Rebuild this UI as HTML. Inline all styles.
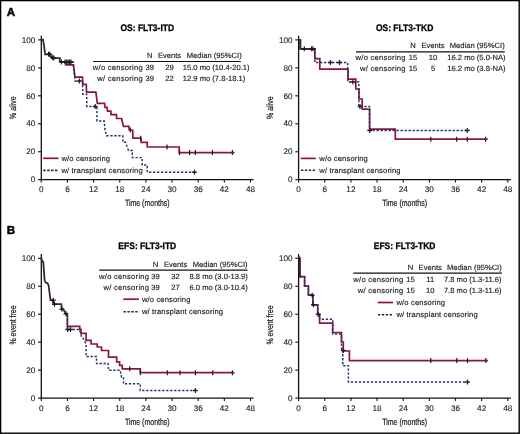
<!DOCTYPE html>
<html><head><meta charset="utf-8"><style>
html,body{margin:0;padding:0;background:#fff;overflow:hidden;}
svg{display:block;}
text{filter:grayscale(1);}
text{font-family:"Liberation Sans", sans-serif;fill:#2a2a2a;text-rendering:geometricPrecision;}
.tk{font-size:8.2px;fill:#222;stroke:#222;stroke-width:0.12px;}
.tb{font-size:7.6px;fill:#222;stroke:#222;stroke-width:0.15px;}
.ls{letter-spacing:0.14px;}
.ls2{letter-spacing:0.26px;}
.at{font-size:9.2px;fill:#1a1a1a;stroke:#1a1a1a;stroke-width:0.22px;}
.ti{font-size:9.6px;font-weight:bold;fill:#000;stroke:#000;stroke-width:0.32px;}
.lb{font-size:11.6px;font-weight:bold;fill:#000;stroke:#000;stroke-width:0.45px;}
</style></head><body>
<svg width="520" height="434" viewBox="0 0 520 434">
<rect x="0" y="0" width="520" height="434" fill="#fff"/>
<g transform="translate(0.00 0.00)">
<line x1="41.30" y1="35.7" x2="41.30" y2="180.30" stroke="#111111" stroke-width="1.3"/>
<line x1="40.70" y1="179.70" x2="253.50" y2="179.70" stroke="#111111" stroke-width="1.3"/>
<line x1="38" y1="179.70" x2="41.30" y2="179.70" stroke="#111111" stroke-width="1.1"/>
<text x="35.3" y="182.40" text-anchor="end" class="tk">0</text>
<line x1="38" y1="151.74" x2="41.30" y2="151.74" stroke="#111111" stroke-width="1.1"/>
<text x="35.3" y="154.44" text-anchor="end" class="tk">20</text>
<line x1="38" y1="123.78" x2="41.30" y2="123.78" stroke="#111111" stroke-width="1.1"/>
<text x="35.3" y="126.48" text-anchor="end" class="tk">40</text>
<line x1="38" y1="95.82" x2="41.30" y2="95.82" stroke="#111111" stroke-width="1.1"/>
<text x="35.3" y="98.52" text-anchor="end" class="tk">60</text>
<line x1="38" y1="67.86" x2="41.30" y2="67.86" stroke="#111111" stroke-width="1.1"/>
<text x="35.3" y="70.56" text-anchor="end" class="tk">80</text>
<line x1="38" y1="39.90" x2="41.30" y2="39.90" stroke="#111111" stroke-width="1.1"/>
<text x="35.3" y="42.60" text-anchor="end" class="tk">100</text>
<line x1="41.30" y1="179.70" x2="41.30" y2="182.50" stroke="#111111" stroke-width="1.1"/>
<text x="41.30" y="192.2" text-anchor="middle" class="tk">0</text>
<line x1="67.45" y1="179.70" x2="67.45" y2="182.50" stroke="#111111" stroke-width="1.1"/>
<text x="67.45" y="192.2" text-anchor="middle" class="tk">6</text>
<line x1="93.60" y1="179.70" x2="93.60" y2="182.50" stroke="#111111" stroke-width="1.1"/>
<text x="93.60" y="192.2" text-anchor="middle" class="tk">12</text>
<line x1="119.75" y1="179.70" x2="119.75" y2="182.50" stroke="#111111" stroke-width="1.1"/>
<text x="119.75" y="192.2" text-anchor="middle" class="tk">18</text>
<line x1="145.90" y1="179.70" x2="145.90" y2="182.50" stroke="#111111" stroke-width="1.1"/>
<text x="145.90" y="192.2" text-anchor="middle" class="tk">24</text>
<line x1="172.05" y1="179.70" x2="172.05" y2="182.50" stroke="#111111" stroke-width="1.1"/>
<text x="172.05" y="192.2" text-anchor="middle" class="tk">30</text>
<line x1="198.20" y1="179.70" x2="198.20" y2="182.50" stroke="#111111" stroke-width="1.1"/>
<text x="198.20" y="192.2" text-anchor="middle" class="tk">36</text>
<line x1="224.35" y1="179.70" x2="224.35" y2="182.50" stroke="#111111" stroke-width="1.1"/>
<text x="224.35" y="192.2" text-anchor="middle" class="tk">42</text>
<line x1="250.50" y1="179.70" x2="250.50" y2="182.50" stroke="#111111" stroke-width="1.1"/>
<text x="250.50" y="192.2" text-anchor="middle" class="tk">48</text>
<text x="147.3" y="206.2" text-anchor="middle" class="at" transform="translate(147.3 0) scale(0.76 1) translate(-147.3 0)">Time (months)</text>
<text class="at" text-anchor="middle" transform="translate(15.6 107.70) rotate(-90) scale(0.76 1)">% alive</text>
<text x="147.3" y="30.9" text-anchor="middle" class="ti" transform="translate(147.3 0) scale(0.885 1) translate(-147.3 0)">OS: FLT3-ITD</text>
<text x="6.7" y="15.5" class="lb">A</text>
</g>
<g transform="translate(257.30 0.00)">
<line x1="41.30" y1="35.7" x2="41.30" y2="180.30" stroke="#111111" stroke-width="1.3"/>
<line x1="40.70" y1="179.70" x2="253.50" y2="179.70" stroke="#111111" stroke-width="1.3"/>
<line x1="38" y1="179.70" x2="41.30" y2="179.70" stroke="#111111" stroke-width="1.1"/>
<text x="35.3" y="182.40" text-anchor="end" class="tk">0</text>
<line x1="38" y1="151.74" x2="41.30" y2="151.74" stroke="#111111" stroke-width="1.1"/>
<text x="35.3" y="154.44" text-anchor="end" class="tk">20</text>
<line x1="38" y1="123.78" x2="41.30" y2="123.78" stroke="#111111" stroke-width="1.1"/>
<text x="35.3" y="126.48" text-anchor="end" class="tk">40</text>
<line x1="38" y1="95.82" x2="41.30" y2="95.82" stroke="#111111" stroke-width="1.1"/>
<text x="35.3" y="98.52" text-anchor="end" class="tk">60</text>
<line x1="38" y1="67.86" x2="41.30" y2="67.86" stroke="#111111" stroke-width="1.1"/>
<text x="35.3" y="70.56" text-anchor="end" class="tk">80</text>
<line x1="38" y1="39.90" x2="41.30" y2="39.90" stroke="#111111" stroke-width="1.1"/>
<text x="35.3" y="42.60" text-anchor="end" class="tk">100</text>
<line x1="41.30" y1="179.70" x2="41.30" y2="182.50" stroke="#111111" stroke-width="1.1"/>
<text x="41.30" y="192.2" text-anchor="middle" class="tk">0</text>
<line x1="67.45" y1="179.70" x2="67.45" y2="182.50" stroke="#111111" stroke-width="1.1"/>
<text x="67.45" y="192.2" text-anchor="middle" class="tk">6</text>
<line x1="93.60" y1="179.70" x2="93.60" y2="182.50" stroke="#111111" stroke-width="1.1"/>
<text x="93.60" y="192.2" text-anchor="middle" class="tk">12</text>
<line x1="119.75" y1="179.70" x2="119.75" y2="182.50" stroke="#111111" stroke-width="1.1"/>
<text x="119.75" y="192.2" text-anchor="middle" class="tk">18</text>
<line x1="145.90" y1="179.70" x2="145.90" y2="182.50" stroke="#111111" stroke-width="1.1"/>
<text x="145.90" y="192.2" text-anchor="middle" class="tk">24</text>
<line x1="172.05" y1="179.70" x2="172.05" y2="182.50" stroke="#111111" stroke-width="1.1"/>
<text x="172.05" y="192.2" text-anchor="middle" class="tk">30</text>
<line x1="198.20" y1="179.70" x2="198.20" y2="182.50" stroke="#111111" stroke-width="1.1"/>
<text x="198.20" y="192.2" text-anchor="middle" class="tk">36</text>
<line x1="224.35" y1="179.70" x2="224.35" y2="182.50" stroke="#111111" stroke-width="1.1"/>
<text x="224.35" y="192.2" text-anchor="middle" class="tk">42</text>
<line x1="250.50" y1="179.70" x2="250.50" y2="182.50" stroke="#111111" stroke-width="1.1"/>
<text x="250.50" y="192.2" text-anchor="middle" class="tk">48</text>
<text x="147.3" y="206.2" text-anchor="middle" class="at" transform="translate(147.3 0) scale(0.76 1) translate(-147.3 0)">Time (months)</text>
<text class="at" text-anchor="middle" transform="translate(15.6 107.70) rotate(-90) scale(0.76 1)">% alive</text>
<text x="147.3" y="30.9" text-anchor="middle" class="ti" transform="translate(147.3 0) scale(0.885 1) translate(-147.3 0)">OS: FLT3-TKD</text>
</g>
<g transform="translate(0.00 218.40)">
<line x1="41.30" y1="35.7" x2="41.30" y2="180.30" stroke="#111111" stroke-width="1.3"/>
<line x1="40.70" y1="179.70" x2="253.50" y2="179.70" stroke="#111111" stroke-width="1.3"/>
<line x1="38" y1="179.70" x2="41.30" y2="179.70" stroke="#111111" stroke-width="1.1"/>
<text x="35.3" y="182.40" text-anchor="end" class="tk">0</text>
<line x1="38" y1="151.74" x2="41.30" y2="151.74" stroke="#111111" stroke-width="1.1"/>
<text x="35.3" y="154.44" text-anchor="end" class="tk">20</text>
<line x1="38" y1="123.78" x2="41.30" y2="123.78" stroke="#111111" stroke-width="1.1"/>
<text x="35.3" y="126.48" text-anchor="end" class="tk">40</text>
<line x1="38" y1="95.82" x2="41.30" y2="95.82" stroke="#111111" stroke-width="1.1"/>
<text x="35.3" y="98.52" text-anchor="end" class="tk">60</text>
<line x1="38" y1="67.86" x2="41.30" y2="67.86" stroke="#111111" stroke-width="1.1"/>
<text x="35.3" y="70.56" text-anchor="end" class="tk">80</text>
<line x1="38" y1="39.90" x2="41.30" y2="39.90" stroke="#111111" stroke-width="1.1"/>
<text x="35.3" y="42.60" text-anchor="end" class="tk">100</text>
<line x1="41.30" y1="179.70" x2="41.30" y2="182.50" stroke="#111111" stroke-width="1.1"/>
<text x="41.30" y="192.2" text-anchor="middle" class="tk">0</text>
<line x1="67.45" y1="179.70" x2="67.45" y2="182.50" stroke="#111111" stroke-width="1.1"/>
<text x="67.45" y="192.2" text-anchor="middle" class="tk">6</text>
<line x1="93.60" y1="179.70" x2="93.60" y2="182.50" stroke="#111111" stroke-width="1.1"/>
<text x="93.60" y="192.2" text-anchor="middle" class="tk">12</text>
<line x1="119.75" y1="179.70" x2="119.75" y2="182.50" stroke="#111111" stroke-width="1.1"/>
<text x="119.75" y="192.2" text-anchor="middle" class="tk">18</text>
<line x1="145.90" y1="179.70" x2="145.90" y2="182.50" stroke="#111111" stroke-width="1.1"/>
<text x="145.90" y="192.2" text-anchor="middle" class="tk">24</text>
<line x1="172.05" y1="179.70" x2="172.05" y2="182.50" stroke="#111111" stroke-width="1.1"/>
<text x="172.05" y="192.2" text-anchor="middle" class="tk">30</text>
<line x1="198.20" y1="179.70" x2="198.20" y2="182.50" stroke="#111111" stroke-width="1.1"/>
<text x="198.20" y="192.2" text-anchor="middle" class="tk">36</text>
<line x1="224.35" y1="179.70" x2="224.35" y2="182.50" stroke="#111111" stroke-width="1.1"/>
<text x="224.35" y="192.2" text-anchor="middle" class="tk">42</text>
<line x1="250.50" y1="179.70" x2="250.50" y2="182.50" stroke="#111111" stroke-width="1.1"/>
<text x="250.50" y="192.2" text-anchor="middle" class="tk">48</text>
<text x="147.3" y="206.2" text-anchor="middle" class="at" transform="translate(147.3 0) scale(0.76 1) translate(-147.3 0)">Time (months)</text>
<text class="at" text-anchor="middle" transform="translate(15.6 106.60) rotate(-90) scale(0.76 1)">% event free</text>
<text x="147.3" y="30.9" text-anchor="middle" class="ti" transform="translate(147.3 0) scale(0.885 1) translate(-147.3 0)">EFS: FLT3-ITD</text>
<text x="6.7" y="15.5" class="lb">B</text>
</g>
<g transform="translate(257.30 218.40)">
<line x1="41.30" y1="35.7" x2="41.30" y2="180.30" stroke="#111111" stroke-width="1.3"/>
<line x1="40.70" y1="179.70" x2="253.50" y2="179.70" stroke="#111111" stroke-width="1.3"/>
<line x1="38" y1="179.70" x2="41.30" y2="179.70" stroke="#111111" stroke-width="1.1"/>
<text x="35.3" y="182.40" text-anchor="end" class="tk">0</text>
<line x1="38" y1="151.74" x2="41.30" y2="151.74" stroke="#111111" stroke-width="1.1"/>
<text x="35.3" y="154.44" text-anchor="end" class="tk">20</text>
<line x1="38" y1="123.78" x2="41.30" y2="123.78" stroke="#111111" stroke-width="1.1"/>
<text x="35.3" y="126.48" text-anchor="end" class="tk">40</text>
<line x1="38" y1="95.82" x2="41.30" y2="95.82" stroke="#111111" stroke-width="1.1"/>
<text x="35.3" y="98.52" text-anchor="end" class="tk">60</text>
<line x1="38" y1="67.86" x2="41.30" y2="67.86" stroke="#111111" stroke-width="1.1"/>
<text x="35.3" y="70.56" text-anchor="end" class="tk">80</text>
<line x1="38" y1="39.90" x2="41.30" y2="39.90" stroke="#111111" stroke-width="1.1"/>
<text x="35.3" y="42.60" text-anchor="end" class="tk">100</text>
<line x1="41.30" y1="179.70" x2="41.30" y2="182.50" stroke="#111111" stroke-width="1.1"/>
<text x="41.30" y="192.2" text-anchor="middle" class="tk">0</text>
<line x1="67.45" y1="179.70" x2="67.45" y2="182.50" stroke="#111111" stroke-width="1.1"/>
<text x="67.45" y="192.2" text-anchor="middle" class="tk">6</text>
<line x1="93.60" y1="179.70" x2="93.60" y2="182.50" stroke="#111111" stroke-width="1.1"/>
<text x="93.60" y="192.2" text-anchor="middle" class="tk">12</text>
<line x1="119.75" y1="179.70" x2="119.75" y2="182.50" stroke="#111111" stroke-width="1.1"/>
<text x="119.75" y="192.2" text-anchor="middle" class="tk">18</text>
<line x1="145.90" y1="179.70" x2="145.90" y2="182.50" stroke="#111111" stroke-width="1.1"/>
<text x="145.90" y="192.2" text-anchor="middle" class="tk">24</text>
<line x1="172.05" y1="179.70" x2="172.05" y2="182.50" stroke="#111111" stroke-width="1.1"/>
<text x="172.05" y="192.2" text-anchor="middle" class="tk">30</text>
<line x1="198.20" y1="179.70" x2="198.20" y2="182.50" stroke="#111111" stroke-width="1.1"/>
<text x="198.20" y="192.2" text-anchor="middle" class="tk">36</text>
<line x1="224.35" y1="179.70" x2="224.35" y2="182.50" stroke="#111111" stroke-width="1.1"/>
<text x="224.35" y="192.2" text-anchor="middle" class="tk">42</text>
<line x1="250.50" y1="179.70" x2="250.50" y2="182.50" stroke="#111111" stroke-width="1.1"/>
<text x="250.50" y="192.2" text-anchor="middle" class="tk">48</text>
<text x="147.3" y="206.2" text-anchor="middle" class="at" transform="translate(147.3 0) scale(0.76 1) translate(-147.3 0)">Time (months)</text>
<text class="at" text-anchor="middle" transform="translate(15.6 106.60) rotate(-90) scale(0.76 1)">% event free</text>
<text x="147.3" y="30.9" text-anchor="middle" class="ti" transform="translate(147.3 0) scale(0.885 1) translate(-147.3 0)">EFS: FLT3-TKD</text>
</g>
<text x="149.80" y="58.00" text-anchor="middle" class="tb">N</text>
<text x="169.50" y="58.00" text-anchor="middle" class="tb">Events</text>
<text x="186.80" y="58.00" class="tb">Median (95%CI)</text>
<line x1="93.10" y1="61.50" x2="240.80" y2="61.50" stroke="#111111" stroke-width="1.2"/>
<text x="143.00" y="70.10" text-anchor="end" class="tb ls2">w/o censoring</text>
<text x="149.80" y="70.10" text-anchor="middle" class="tb">39</text>
<text x="169.50" y="70.10" text-anchor="middle" class="tb">29</text>
<text x="182.80" y="70.10" class="tb">15.0 mo (10.4-20.1)</text>
<text x="143.00" y="81.10" text-anchor="end" class="tb ls2">w/ censoring</text>
<text x="149.80" y="81.10" text-anchor="middle" class="tb">39</text>
<text x="169.50" y="81.10" text-anchor="middle" class="tb">22</text>
<text x="182.80" y="81.10" class="tb">12.9 mo (7.8-18.1)</text>
<text x="413.10" y="48.20" text-anchor="middle" class="tb">N</text>
<text x="433.00" y="48.20" text-anchor="middle" class="tb">Events</text>
<text x="449.80" y="48.20" class="tb">Median (95%CI)</text>
<line x1="356.00" y1="51.80" x2="504.80" y2="51.80" stroke="#111111" stroke-width="1.2"/>
<text x="405.80" y="60.30" text-anchor="end" class="tb ls2">w/o censoring</text>
<text x="413.10" y="60.30" text-anchor="middle" class="tb">15</text>
<text x="433.00" y="60.30" text-anchor="middle" class="tb">10</text>
<text x="447.30" y="60.30" class="tb">16.2 mo (5.0-NA)</text>
<text x="405.80" y="71.30" text-anchor="end" class="tb ls2">w/ censoring</text>
<text x="413.10" y="71.30" text-anchor="middle" class="tb">15</text>
<text x="433.00" y="71.30" text-anchor="middle" class="tb">5</text>
<text x="447.30" y="71.30" class="tb">16.2 mo (3.8-NA)</text>
<text x="155.50" y="266.50" text-anchor="middle" class="tb">N</text>
<text x="175.60" y="266.50" text-anchor="middle" class="tb">Events</text>
<text x="192.70" y="266.50" class="tb">Median (95%CI)</text>
<line x1="99.30" y1="270.10" x2="247.50" y2="270.10" stroke="#111111" stroke-width="1.2"/>
<text x="149.30" y="278.80" text-anchor="end" class="tb ls2">w/o censoring</text>
<text x="155.50" y="278.80" text-anchor="middle" class="tb">39</text>
<text x="175.60" y="278.80" text-anchor="middle" class="tb">32</text>
<text x="189.50" y="278.80" class="tb">8.8 mo (3.0-13.9)</text>
<text x="149.30" y="290.10" text-anchor="end" class="tb ls2">w/ censoring</text>
<text x="155.50" y="290.10" text-anchor="middle" class="tb">39</text>
<text x="175.60" y="290.10" text-anchor="middle" class="tb">27</text>
<text x="189.50" y="290.10" class="tb">6.0 mo (3.0-10.4)</text>
<text x="410.50" y="269.50" text-anchor="middle" class="tb">N</text>
<text x="430.20" y="269.50" text-anchor="middle" class="tb">Events</text>
<text x="446.90" y="269.50" class="tb">Median (95%CI)</text>
<line x1="353.40" y1="273.10" x2="501.90" y2="273.10" stroke="#111111" stroke-width="1.2"/>
<text x="403.50" y="281.80" text-anchor="end" class="tb ls2">w/o censoring</text>
<text x="410.50" y="281.80" text-anchor="middle" class="tb">15</text>
<text x="430.20" y="281.80" text-anchor="middle" class="tb">11</text>
<text x="443.90" y="281.80" class="tb">7.8 mo (1.3-11.6)</text>
<text x="403.50" y="293.10" text-anchor="end" class="tb ls2">w/ censoring</text>
<text x="410.50" y="293.10" text-anchor="middle" class="tb">15</text>
<text x="430.20" y="293.10" text-anchor="middle" class="tb">10</text>
<text x="443.90" y="293.10" class="tb">7.8 mo (1.3-11.6)</text>
<line x1="43.10" y1="158.30" x2="58.50" y2="158.30" stroke="#8b173d" stroke-width="1.7"/>
<line x1="43.30" y1="170.40" x2="58.50" y2="170.40" stroke="#1c2850" stroke-width="1.6" stroke-dasharray="2.4 1.5"/>
<text x="61.50" y="160.60" class="tb ls">w/o censoring</text>
<text x="61.50" y="172.80" class="tb ls">w/ transplant censoring</text>
<line x1="300.80" y1="158.40" x2="315.80" y2="158.40" stroke="#8b173d" stroke-width="1.7"/>
<line x1="301.00" y1="170.30" x2="315.80" y2="170.30" stroke="#1c2850" stroke-width="1.6" stroke-dasharray="2.4 1.5"/>
<text x="319.30" y="160.70" class="tb ls">w/o censoring</text>
<text x="319.30" y="172.70" class="tb ls">w/ transplant censoring</text>
<line x1="123.30" y1="299.20" x2="138.80" y2="299.20" stroke="#8b173d" stroke-width="1.7"/>
<line x1="123.50" y1="311.70" x2="138.80" y2="311.70" stroke="#1c2850" stroke-width="1.6" stroke-dasharray="2.4 1.5"/>
<text x="141.90" y="301.50" class="tb ls">w/o censoring</text>
<text x="141.90" y="314.10" class="tb ls">w/ transplant censoring</text>
<line x1="377.70" y1="302.50" x2="393.10" y2="302.50" stroke="#8b173d" stroke-width="1.7"/>
<line x1="377.90" y1="314.70" x2="393.10" y2="314.70" stroke="#1c2850" stroke-width="1.6" stroke-dasharray="2.4 1.5"/>
<text x="396.50" y="304.80" class="tb ls">w/o censoring</text>
<text x="396.50" y="317.10" class="tb ls">w/ transplant censoring</text>
<path d="M59.80 61.90 L66.00 61.90 L66.00 64.80 L73.30 64.80 L75.00 77.10 L82.50 77.10 L82.80 84.30 L86.30 84.30 L86.50 92.20 L95.90 92.20 L97.30 103.30 L104.70 103.30 L105.00 107.40 L107.00 107.40 L107.50 111.20 L110.90 111.20 L111.00 114.70 L116.40 114.70 L116.60 118.50 L121.60 118.50 L122.50 122.60 L123.50 126.30 L128.90 126.30 L129.20 130.00 L132.70 130.00 L132.90 138.20 L141.00 138.20 L141.20 142.40 L147.20 142.40 L147.30 147.00 L179.20 147.00 L179.20 152.60 L232.40 152.60" fill="none" stroke="#8b173d" stroke-width="1.7" stroke-linejoin="miter"/>
<path d="M59.80 61.90 L73.00 61.90 L73.50 62.50 L75.00 81.00 L82.50 81.00 L82.80 94.20 L86.70 94.20 L86.80 106.50 L96.80 106.50 L97.00 121.00 L104.20 121.00 L105.00 130.00 L106.50 135.80 L122.80 135.80 L123.00 142.30 L125.50 142.30 L128.50 150.50 L132.20 150.50 L132.40 157.60 L142.10 157.60 L142.20 165.00 L147.20 165.00 L147.30 172.20 L194.50 172.20" fill="none" stroke="#1f3568" stroke-width="1.45" stroke-dasharray="2.3 1.7"/>
<path d="M41.40 39.70 L43.10 39.70 L45.20 54.30 L49.50 54.30 L52.00 58.10 L59.80 58.10 L59.80 61.90" fill="none" stroke="#3e2635" stroke-width="1.8" stroke-linejoin="miter"/>
<line x1="130.30" y1="127.50" x2="130.30" y2="132.50" stroke="#1e1a22" stroke-width="1.2"/>
<line x1="140.70" y1="135.70" x2="140.70" y2="140.70" stroke="#1e1a22" stroke-width="1.2"/>
<line x1="167.00" y1="144.50" x2="167.00" y2="149.50" stroke="#1e1a22" stroke-width="1.2"/>
<line x1="179.50" y1="150.10" x2="179.50" y2="155.10" stroke="#1e1a22" stroke-width="1.2"/>
<line x1="189.60" y1="150.10" x2="189.60" y2="155.10" stroke="#1e1a22" stroke-width="1.2"/>
<line x1="195.40" y1="150.10" x2="195.40" y2="155.10" stroke="#1e1a22" stroke-width="1.2"/>
<line x1="212.40" y1="150.10" x2="212.40" y2="155.10" stroke="#1e1a22" stroke-width="1.2"/>
<line x1="232.40" y1="150.10" x2="232.40" y2="155.10" stroke="#1e1a22" stroke-width="1.2"/>
<line x1="79.30" y1="78.50" x2="79.30" y2="83.50" stroke="#1e1a22" stroke-width="1.2"/>
<line x1="95.20" y1="104.00" x2="95.20" y2="109.00" stroke="#1e1a22" stroke-width="1.2"/>
<line x1="194.50" y1="169.70" x2="194.50" y2="174.70" stroke="#1e1a22" stroke-width="1.2"/>
<line x1="48.60" y1="51.80" x2="48.60" y2="56.80" stroke="#1e1a22" stroke-width="1.2"/>
<line x1="49.80" y1="51.80" x2="49.80" y2="56.80" stroke="#1e1a22" stroke-width="1.2"/>
<line x1="52.60" y1="55.10" x2="52.60" y2="60.10" stroke="#1e1a22" stroke-width="1.2"/>
<line x1="53.80" y1="55.60" x2="53.80" y2="60.60" stroke="#1e1a22" stroke-width="1.2"/>
<line x1="61.40" y1="59.40" x2="61.40" y2="64.40" stroke="#1e1a22" stroke-width="1.2"/>
<line x1="64.90" y1="59.40" x2="64.90" y2="64.40" stroke="#1e1a22" stroke-width="1.2"/>
<line x1="66.60" y1="59.40" x2="66.60" y2="64.40" stroke="#1e1a22" stroke-width="1.2"/>
<line x1="68.20" y1="59.40" x2="68.20" y2="64.40" stroke="#1e1a22" stroke-width="1.2"/>
<line x1="69.60" y1="59.40" x2="69.60" y2="64.40" stroke="#1e1a22" stroke-width="1.2"/>
<line x1="71.00" y1="59.40" x2="71.00" y2="64.40" stroke="#1e1a22" stroke-width="1.2"/>
<line x1="232.40" y1="152.60" x2="234.60" y2="152.60" stroke="#8b173d" stroke-width="1.7"/>
<line x1="76.90" y1="81.00" x2="81.70" y2="81.00" stroke="#1e1a22" stroke-width="1.4"/>
<line x1="92.80" y1="106.50" x2="97.60" y2="106.50" stroke="#1e1a22" stroke-width="1.4"/>
<line x1="192.10" y1="172.20" x2="196.90" y2="172.20" stroke="#1e1a22" stroke-width="1.4"/>
<line x1="46.20" y1="54.30" x2="51.00" y2="54.30" stroke="#1e1a22" stroke-width="1.4"/>
<line x1="47.40" y1="54.30" x2="52.20" y2="54.30" stroke="#1e1a22" stroke-width="1.4"/>
<line x1="50.20" y1="57.60" x2="55.00" y2="57.60" stroke="#1e1a22" stroke-width="1.4"/>
<line x1="51.40" y1="58.10" x2="56.20" y2="58.10" stroke="#1e1a22" stroke-width="1.4"/>
<line x1="59.00" y1="61.90" x2="63.80" y2="61.90" stroke="#1e1a22" stroke-width="1.4"/>
<line x1="62.50" y1="61.90" x2="67.30" y2="61.90" stroke="#1e1a22" stroke-width="1.4"/>
<line x1="64.20" y1="61.90" x2="69.00" y2="61.90" stroke="#1e1a22" stroke-width="1.4"/>
<line x1="65.80" y1="61.90" x2="70.60" y2="61.90" stroke="#1e1a22" stroke-width="1.4"/>
<line x1="67.20" y1="61.90" x2="72.00" y2="61.90" stroke="#1e1a22" stroke-width="1.4"/>
<line x1="68.60" y1="61.90" x2="73.40" y2="61.90" stroke="#1e1a22" stroke-width="1.4"/>
<path d="M298.70 39.80 L300.30 39.80 L300.30 48.80 L314.90 48.80 L314.90 58.70 L319.80 58.70 L319.80 69.20 L348.00 69.20 L348.00 79.20 L355.80 79.20 L355.80 89.00 L359.00 89.00 L359.00 99.00 L362.20 99.00 L362.20 109.20 L369.60 109.20 L369.60 129.20 L395.30 129.20 L395.30 139.20 L485.60 139.20" fill="none" stroke="#8b173d" stroke-width="1.7" stroke-linejoin="miter"/>
<path d="M298.70 39.80 L300.30 39.80 L300.30 48.80 L314.90 48.80 L314.90 62.50 L347.60 62.50 L347.80 81.90 L358.80 81.90 L358.90 106.50 L369.50 106.50 L369.60 130.40 L467.30 130.40" fill="none" stroke="#1f3568" stroke-width="1.45" stroke-dasharray="2.3 1.7"/>
<path d="M298.70 39.80 L300.30 39.80 L300.30 48.80 L314.90 48.80" fill="none" stroke="#3e2635" stroke-width="1.8"/>
<line x1="430.80" y1="136.70" x2="430.80" y2="141.70" stroke="#1e1a22" stroke-width="1.2"/>
<line x1="456.70" y1="136.70" x2="456.70" y2="141.70" stroke="#1e1a22" stroke-width="1.2"/>
<line x1="467.30" y1="136.70" x2="467.30" y2="141.70" stroke="#1e1a22" stroke-width="1.2"/>
<line x1="485.60" y1="136.70" x2="485.60" y2="141.70" stroke="#1e1a22" stroke-width="1.2"/>
<line x1="330.50" y1="60.00" x2="330.50" y2="65.00" stroke="#1e1a22" stroke-width="1.2"/>
<line x1="339.50" y1="60.00" x2="339.50" y2="65.00" stroke="#1e1a22" stroke-width="1.2"/>
<line x1="352.90" y1="79.40" x2="352.90" y2="84.40" stroke="#1e1a22" stroke-width="1.2"/>
<line x1="360.00" y1="104.00" x2="360.00" y2="109.00" stroke="#1e1a22" stroke-width="1.2"/>
<line x1="369.70" y1="127.90" x2="369.70" y2="132.90" stroke="#1e1a22" stroke-width="1.2"/>
<line x1="467.30" y1="127.90" x2="467.30" y2="132.90" stroke="#1e1a22" stroke-width="1.2"/>
<line x1="304.30" y1="46.30" x2="304.30" y2="51.30" stroke="#1e1a22" stroke-width="1.2"/>
<line x1="311.50" y1="46.30" x2="311.50" y2="51.30" stroke="#1e1a22" stroke-width="1.2"/>
<line x1="312.90" y1="46.30" x2="312.90" y2="51.30" stroke="#1e1a22" stroke-width="1.2"/>
<line x1="485.60" y1="139.20" x2="487.80" y2="139.20" stroke="#8b173d" stroke-width="1.7"/>
<line x1="328.10" y1="62.50" x2="332.90" y2="62.50" stroke="#1e1a22" stroke-width="1.4"/>
<line x1="337.10" y1="62.50" x2="341.90" y2="62.50" stroke="#1e1a22" stroke-width="1.4"/>
<line x1="350.50" y1="81.90" x2="355.30" y2="81.90" stroke="#1e1a22" stroke-width="1.4"/>
<line x1="357.60" y1="106.50" x2="362.40" y2="106.50" stroke="#1e1a22" stroke-width="1.4"/>
<line x1="367.30" y1="130.40" x2="372.10" y2="130.40" stroke="#1e1a22" stroke-width="1.4"/>
<line x1="464.90" y1="130.40" x2="469.70" y2="130.40" stroke="#1e1a22" stroke-width="1.4"/>
<line x1="301.90" y1="48.80" x2="306.70" y2="48.80" stroke="#1e1a22" stroke-width="1.4"/>
<line x1="309.10" y1="48.80" x2="313.90" y2="48.80" stroke="#1e1a22" stroke-width="1.4"/>
<line x1="310.50" y1="48.80" x2="315.30" y2="48.80" stroke="#1e1a22" stroke-width="1.4"/>
<path d="M67.40 314.70 L67.40 326.40 L79.80 326.40 L79.80 329.30 L81.00 329.30 L81.00 333.40 L86.10 333.40 L86.10 340.30 L91.10 340.30 L91.10 344.00 L97.20 344.00 L97.20 347.00 L101.50 347.00 L101.50 350.50 L108.50 350.50 L108.50 357.20 L116.70 357.20 L116.70 361.90 L119.60 361.90 L119.60 365.30 L122.30 365.30 L122.30 368.80 L140.30 368.80 L140.30 372.70 L232.40 372.70" fill="none" stroke="#8b173d" stroke-width="1.7" stroke-linejoin="miter"/>
<path d="M67.40 314.70 L67.40 329.50 L79.50 329.50 L81.50 336.60 L83.00 338.00 L86.10 344.00 L86.10 356.50 L96.50 356.50 L96.50 363.50 L108.00 363.50 L108.50 370.20 L120.20 370.20 L121.50 377.00 L123.50 377.00 L123.50 383.80 L140.30 383.80 L140.30 390.50 L195.40 390.50" fill="none" stroke="#1f3568" stroke-width="1.45" stroke-dasharray="2.3 1.7"/>
<path d="M41.30 258.30 L42.30 261.00 L43.30 262.00 L44.60 280.40 L45.80 282.60 L47.60 283.30 L48.60 285.50 L50.50 300.20 L52.50 300.20 L53.50 304.20 L61.40 304.20 L61.60 309.20 L63.00 309.20 L65.00 312.00 L66.50 314.70 L67.40 314.70" fill="none" stroke="#3e2635" stroke-width="1.8" stroke-linejoin="miter"/>
<line x1="129.70" y1="366.30" x2="129.70" y2="371.30" stroke="#1e1a22" stroke-width="1.2"/>
<line x1="140.30" y1="370.20" x2="140.30" y2="375.20" stroke="#1e1a22" stroke-width="1.2"/>
<line x1="167.30" y1="370.20" x2="167.30" y2="375.20" stroke="#1e1a22" stroke-width="1.2"/>
<line x1="180.00" y1="370.20" x2="180.00" y2="375.20" stroke="#1e1a22" stroke-width="1.2"/>
<line x1="195.40" y1="370.20" x2="195.40" y2="375.20" stroke="#1e1a22" stroke-width="1.2"/>
<line x1="212.70" y1="370.20" x2="212.70" y2="375.20" stroke="#1e1a22" stroke-width="1.2"/>
<line x1="232.40" y1="370.20" x2="232.40" y2="375.20" stroke="#1e1a22" stroke-width="1.2"/>
<line x1="67.60" y1="327.00" x2="67.60" y2="332.00" stroke="#1e1a22" stroke-width="1.2"/>
<line x1="70.50" y1="327.00" x2="70.50" y2="332.00" stroke="#1e1a22" stroke-width="1.2"/>
<line x1="195.40" y1="388.00" x2="195.40" y2="393.00" stroke="#1e1a22" stroke-width="1.2"/>
<line x1="53.30" y1="297.70" x2="53.30" y2="302.70" stroke="#1e1a22" stroke-width="1.2"/>
<line x1="54.50" y1="301.70" x2="54.50" y2="306.70" stroke="#1e1a22" stroke-width="1.2"/>
<line x1="61.90" y1="306.70" x2="61.90" y2="311.70" stroke="#1e1a22" stroke-width="1.2"/>
<line x1="66.00" y1="311.30" x2="66.00" y2="316.30" stroke="#1e1a22" stroke-width="1.2"/>
<line x1="232.40" y1="372.70" x2="234.60" y2="372.70" stroke="#8b173d" stroke-width="1.7"/>
<line x1="65.20" y1="329.50" x2="70.00" y2="329.50" stroke="#1e1a22" stroke-width="1.4"/>
<line x1="68.10" y1="329.50" x2="72.90" y2="329.50" stroke="#1e1a22" stroke-width="1.4"/>
<line x1="193.00" y1="390.50" x2="197.80" y2="390.50" stroke="#1e1a22" stroke-width="1.4"/>
<line x1="50.90" y1="300.20" x2="55.70" y2="300.20" stroke="#1e1a22" stroke-width="1.4"/>
<line x1="52.10" y1="304.20" x2="56.90" y2="304.20" stroke="#1e1a22" stroke-width="1.4"/>
<line x1="59.50" y1="309.20" x2="64.30" y2="309.20" stroke="#1e1a22" stroke-width="1.4"/>
<line x1="63.60" y1="313.80" x2="68.40" y2="313.80" stroke="#1e1a22" stroke-width="1.4"/>
<path d="M298.60 258.30 L299.80 258.30 L299.80 276.60 L304.60 276.60 L304.60 286.20 L308.40 286.20 L308.40 295.20 L312.90 295.20 L312.90 304.80 L317.70 304.80 L317.70 314.40 L319.60 314.40 L319.60 323.10 L332.70 323.10 L332.70 332.50 L341.50 332.50 L341.50 342.00 L343.30 342.00 L343.30 351.00 L349.40 351.00 L349.40 360.60 L485.80 360.60" fill="none" stroke="#8b173d" stroke-width="1.7" stroke-linejoin="miter"/>
<path d="M298.60 258.30 L299.80 258.30 L299.80 276.60 L304.60 276.60 L304.60 286.20 L308.40 286.20 L308.40 295.20 L312.90 295.20 L312.90 304.80 L317.70 304.80 L317.70 314.40 L319.60 314.40 L319.60 319.20 L332.70 319.20 L332.70 334.00 L341.50 334.00 L341.50 350.50 L342.80 350.50 L342.80 365.70 L348.40 365.70 L348.40 382.00 L467.50 382.00" fill="none" stroke="#1f3568" stroke-width="1.45" stroke-dasharray="2.3 1.7"/>
<path d="M298.60 256.50 L299.80 258.50 L299.80 276.60 L301.50 276.60" fill="none" stroke="#3e2635" stroke-width="1.8"/>
<line x1="430.80" y1="358.10" x2="430.80" y2="363.10" stroke="#1e1a22" stroke-width="1.2"/>
<line x1="456.80" y1="358.10" x2="456.80" y2="363.10" stroke="#1e1a22" stroke-width="1.2"/>
<line x1="467.50" y1="358.10" x2="467.50" y2="363.10" stroke="#1e1a22" stroke-width="1.2"/>
<line x1="485.80" y1="358.10" x2="485.80" y2="363.10" stroke="#1e1a22" stroke-width="1.2"/>
<line x1="343.30" y1="348.00" x2="343.30" y2="353.00" stroke="#1e1a22" stroke-width="1.2"/>
<line x1="467.50" y1="379.50" x2="467.50" y2="384.50" stroke="#1e1a22" stroke-width="1.2"/>
<line x1="312.20" y1="292.70" x2="312.20" y2="297.70" stroke="#1e1a22" stroke-width="1.2"/>
<line x1="313.40" y1="302.30" x2="313.40" y2="307.30" stroke="#1e1a22" stroke-width="1.2"/>
<line x1="318.20" y1="311.90" x2="318.20" y2="316.90" stroke="#1e1a22" stroke-width="1.2"/>
<line x1="485.80" y1="360.60" x2="488.00" y2="360.60" stroke="#8b173d" stroke-width="1.7"/>
<line x1="340.90" y1="350.50" x2="345.70" y2="350.50" stroke="#1e1a22" stroke-width="1.4"/>
<line x1="465.10" y1="382.00" x2="469.90" y2="382.00" stroke="#1e1a22" stroke-width="1.4"/>
<line x1="309.80" y1="295.20" x2="314.60" y2="295.20" stroke="#1e1a22" stroke-width="1.4"/>
<line x1="311.00" y1="304.80" x2="315.80" y2="304.80" stroke="#1e1a22" stroke-width="1.4"/>
<line x1="315.80" y1="314.40" x2="320.60" y2="314.40" stroke="#1e1a22" stroke-width="1.4"/>
<rect x="0.6" y="0.6" width="518.6" height="432.6" fill="none" stroke="#000" stroke-width="1.4"/>
</svg>
</body></html>
